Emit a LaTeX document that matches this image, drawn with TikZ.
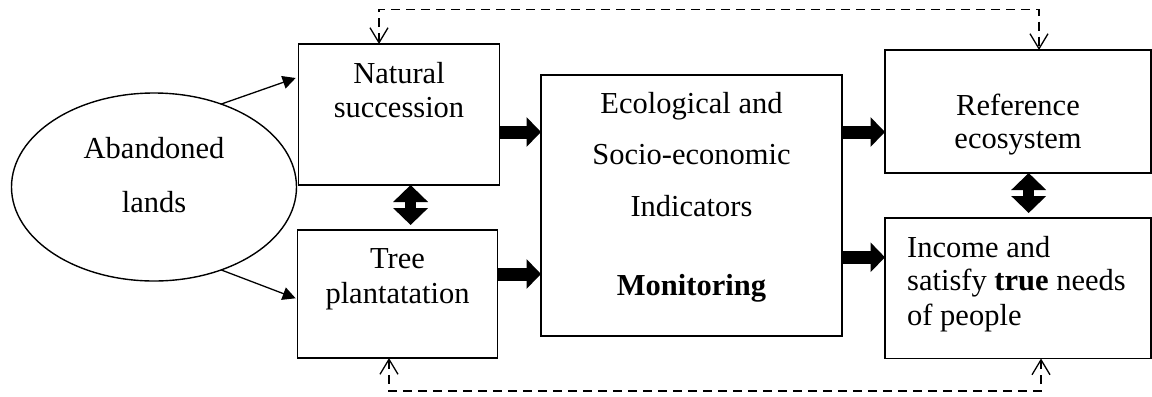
\documentclass[tikz,border=0pt]{standalone}
\usepackage{fontspec}
\setmainfont{Liberation Serif}
\usetikzlibrary{arrows.meta,shapes.geometric,calc}
\begin{document}
\begin{tikzpicture}[x=1bp,y=-1bp,
  box/.style={draw,line width=1.7bp,rectangle,inner sep=0pt,outer sep=0pt},
  oval/.style={draw,line width=1.4bp,ellipse,inner sep=0pt,outer sep=0pt},
  lbl/.style={anchor=base,inner sep=0pt,font=\fontsize{30.5bp}{36bp}\selectfont},
  lblw/.style={lbl,anchor=base west},
  thinarrow/.style={line width=1.3bp,-{Triangle[length=13bp,width=13bp]}},
  fatarrow/.style={line width=13bp,-{Triangle[length=14.5bp,width=29bp]}},
  fatboth/.style={line width=11.5bp,{Triangle[length=17bp,width=34bp]}-{Triangle[length=17bp,width=34bp]}},
  fbarrow/.style={line width=1.3bp,dash pattern=on 9bp off 6bp,
    {Straight Barb[length=15bp,width=18bp,line width=1.3bp]}-{Straight Barb[length=15bp,width=18bp,line width=1.3bp]}}]

\useasboundingbox (0,0) rectangle (1152,396);

% boxes
\node[oval,minimum width=285bp,minimum height=188bp] (ab) at (154,187) {};
\node[box,minimum width=201bp,minimum height=141bp] (nat) at (399,114.5) {};
\node[box,minimum width=200bp,minimum height=128bp] (tree) at (397.5,294) {};
\node[box,minimum width=301bp,minimum height=261bp] (ind) at (691.5,205.5) {};
\node[box,minimum width=266bp,minimum height=123bp] (ref) at (1018,111.5) {};
\node[box,minimum width=266bp,minimum height=140.5bp] (inc) at (1018,288.25) {};

% texts
\node[lbl] (t1) at (154,158) {Abandoned};
\node[lbl] (t2) at (154,212) {lands};
\node[lbl] (t3) at (399,83) {Natural};
\node[lbl] (t4) at (399,117) {succession};
\node[lbl] (t5) at (397.5,268) {Tree};
\node[lbl] (t6) at (397.5,303) {plantatation};
\node[lbl] (t7) at (691.5,113) {Ecological and};
\node[lbl] (t8) at (691.5,164) {Socio-economic};
\node[lbl] (t9) at (691.5,216) {Indicators};
\node[lbl] (t10) at (691.5,295) {\bfseries Monitoring};
\node[lbl] (t11) at (1018,115) {Reference};
\node[lbl] (t12) at (1018,148) {ecosystem};
\node[lblw] (t13) at (907,257) {Income and};
\node[lblw] (t14) at (907,290.5) {satisfy {\bfseries true} needs};
\node[lblw] (t15) at (907,325) {of people};

% helper coordinates for connector rows and columns
\coordinate (ya) at (0,77);
\coordinate (yb) at (0,299);
\coordinate (yc) at (0,132);
\coordinate (yd) at (0,274);
\coordinate (ye) at (0,257.3);
\coordinate (xl) at (410.6,0);
\coordinate (xr) at (1028.7,0);
\coordinate (dt1) at (379,9.3);
\coordinate (dt2) at (1039,9.3);
\coordinate (db1) at (389,391);
\coordinate (db2) at (1041,391);

% thin arrows from the oval
\draw[thinarrow,shorten >=3bp] (ab.51) -- (nat.west |- ya);
\draw[thinarrow,shorten >=2bp] (ab.-51) -- (tree.west |- yb);

% thick arrows
\draw[fatarrow] (nat.east |- yc) -- (ind.west |- yc);
\draw[fatarrow] (tree.east |- yd) -- (ind.west |- yd);
\draw[fatarrow] (ind.east |- yc) -- (ref.west |- yc);
\draw[fatarrow] (ind.east |- ye) -- (inc.west |- ye);

% thick double arrows
\draw[fatboth,shorten >=5bp] (nat.south -| xl) -- (tree.north -| xl);
\draw[fatboth,shorten >=5bp] (ref.south -| xr) -- (inc.north -| xr);

% dashed feedback loops
\draw[fbarrow] (nat.north -| dt1) -- (dt1) -- (dt2) -- (ref.north -| dt2);
\draw[fbarrow] (tree.south -| db1) -- (db1) -- (db2) -- (inc.south -| db2);
\end{tikzpicture}
\end{document}
